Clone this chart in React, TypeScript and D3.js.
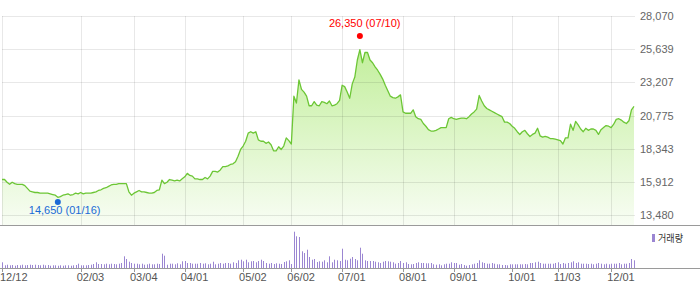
import React, { useEffect } from "react";
import * as d3 from "d3";

const W = 700;
const H = 289;

// daily closing prices (KRW), 12/12 .. 12/12
const prices = [
  16100, 16100, 15900, 15750, 15900, 15800, 15750, 15750, 15750, 15650,
  15450, 15250, 15200, 15150, 15150, 15100, 15100, 15100, 15100, 15050,
  15000, 14950, 14800, 14850, 14950, 15000, 15050, 14950, 15000, 15100,
  15050, 15150, 15050, 15100, 15100, 15100, 15150, 15200, 15300, 15350,
  15450, 15500, 15600, 15700, 15750, 15750, 15800, 15800, 15800, 15800,
  15200, 14950, 15100, 15200, 15300, 15200, 15200, 15150, 15100, 15100,
  15150, 15300, 15350, 16050, 15800, 15900, 16100, 16050, 16000, 16050,
  16000, 16150, 16300, 16550, 16400, 16350, 16150, 16150, 16100, 16100,
  16250, 16150, 16350, 16700, 16700, 16650, 16800, 17050, 17050, 17100,
  17200, 17250, 17400, 17800, 18300, 18550, 18900, 19500, 19600, 19500,
  19600, 19000, 18900, 18900, 18750, 18850, 18650, 18200, 18200, 18500,
  18300, 18550, 19150, 18950, 18700, 22200, 21700, 23400, 22700, 22500,
  22200, 21500, 21500, 21800, 21550, 21500, 21800, 21750, 21650, 21850,
  21500, 21550, 21650, 21900, 23000, 22900, 22500, 22050, 23100, 23600,
  24850, 25600, 24650, 25400, 25400, 24850, 24650, 24350, 24100, 23800,
  23450, 23000, 22600, 22200, 22100, 22050, 22150, 22300, 21050, 20950,
  20950, 20950, 21200, 20700, 20550, 20500, 20200, 20000, 19750, 19650,
  19650, 19700, 19800, 19900, 19900, 19900, 20550, 20650, 20550, 20500,
  20550, 20600, 20600, 20550, 20700, 20900, 21050, 21250, 22250, 21850,
  21500, 21300, 21200, 21100, 21000, 20900, 20800, 20700, 20300, 20300,
  20200, 20000, 19850, 19600, 19400, 19600, 19700, 19450, 19250, 19400,
  19500, 19850, 19300, 19200, 19250, 19200, 19100, 19100, 19050, 19000,
  18950, 18700, 19150, 19150, 20150, 19700, 20350, 20100, 19800, 19600,
  19850, 19700, 19800, 19800, 19700, 19400, 19750, 19900, 20050, 20000,
  19900, 20150, 20500, 20550, 20450, 20300, 20200, 20400, 21200, 21450,
];

// daily volume (thousand shares)
const volumes = [
  285, 135, 165, 135, 150, 115, 150, 135, 165, 135,
  150, 165, 150, 165, 150, 135, 165, 135, 150, 115,
  135, 135, 115, 135, 115, 135, 135, 115, 135, 150,
  215, 135, 135, 135, 150, 165, 200, 285, 200, 200,
  185, 215, 185, 215, 200, 185, 215, 250, 585, 450,
  315, 250, 215, 215, 185, 215, 165, 185, 215, 185,
  185, 215, 200, 715, 615, 165, 215, 215, 185, 235,
  185, 335, 350, 250, 250, 215, 215, 215, 250, 215,
  235, 185, 215, 315, 185, 215, 250, 215, 250, 250,
  215, 285, 250, 385, 415, 335, 415, 285, 335, 350,
  285, 350, 415, 350, 250, 215, 250, 200, 235, 215,
  200, 300, 335, 385, 200, 1815, 1585, 1550, 835, 750,
  915, 550, 415, 450, 300, 335, 315, 385, 285, 585,
  285, 415, 385, 350, 965, 415, 385, 465, 550, 450,
  385, 1015, 715, 385, 350, 350, 350, 315, 285, 250,
  315, 350, 335, 315, 285, 215, 250, 350, 250, 285,
  200, 185, 200, 250, 285, 250, 250, 235, 235, 250,
  185, 165, 185, 135, 185, 215, 215, 285, 250, 250,
  165, 200, 150, 115, 150, 185, 215, 250, 385, 285,
  250, 215, 215, 250, 215, 185, 185, 150, 150, 135,
  185, 185, 185, 185, 185, 185, 200, 185, 250, 250,
  285, 315, 250, 215, 215, 215, 215, 215, 250, 285,
  200, 250, 215, 250, 285, 335, 250, 285, 215, 215,
  215, 200, 215, 185, 215, 250, 215, 185, 215, 185,
  215, 215, 215, 250, 185, 215, 215, 250, 450, 385,
];

const xTickIndex = [0, 31, 52, 72, 95, 114, 134, 158, 178, 201, 219, 240];
const xTickLabels = ["12/12", "02/03", "03/04", "04/01", "05/02", "06/02", "07/01", "08/01", "09/01", "10/01", "11/03", "12/01"];
const yTickValues = [13480, 15912, 18343, 20775, 23207, 25639, 28070];

const highPoint = [141, 26350];
const highDate = "07/10";
const lowPoint = [22, 14650];
const lowDate = "01/16";
const legendLabel = "거래량";

const fmt = d3.format(",");

export default function App() {
  useEffect(() => {
    document.body.style.margin = "0";
  }, []);

  const x = d3.scaleLinear().domain([0, prices.length - 1]).range([2, 634]);
  const y = d3.scaleLinear().domain([12771, 28070]).range([225, 16]);
  const yv = d3.scaleLinear().domain([0, 2000]).range([268, 228]);

  const area = d3
    .area<number>()
    .x((_, i) => x(i))
    .y0(225)
    .y1((d) => y(d));
  const line = d3
    .line<number>()
    .x((_, i) => x(i))
    .y((d) => y(d));

  const font = "'Liberation Sans', Arial, sans-serif";
  const hx = x(highPoint[0]);
  const hy = y(highPoint[1]) - 3.5;
  const lx = x(lowPoint[0]);
  const ly = y(lowPoint[1]) + 2.7;

  return (
    <svg
      width={W}
      height={H}
      style={{ position: "absolute", left: 0, top: 0, display: "block", background: "#fff" }}
      fontFamily={font}
    >
      <defs>
        <linearGradient id="pfill" gradientUnits="userSpaceOnUse" x1={0} y1={40} x2={0} y2={225}>
          <stop offset="0" stopColor="#c0ee98" />
          <stop offset="1" stopColor="#f8fdf4" />
        </linearGradient>
      </defs>

      <path d={area(prices) || ""} fill="url(#pfill)" />

      {/* horizontal gridlines */}
      {yTickValues.map((v) => (
        <line
          key={"h" + v}
          x1={2}
          x2={635}
          y1={Math.round(y(v)) + 0.5}
          y2={Math.round(y(v)) + 0.5}
          stroke="rgba(0,0,0,0.09)"
          strokeWidth={1}
        />
      ))}
      {/* vertical gridlines */}
      {xTickIndex.map((i) => (
        <line
          key={"v" + i}
          x1={Math.round(x(i)) + 0.5}
          x2={Math.round(x(i)) + 0.5}
          y1={16}
          y2={225}
          stroke="rgba(0,0,0,0.09)"
          strokeWidth={1}
        />
      ))}

      <path d={line(prices) || ""} fill="none" stroke="#6cc635" strokeWidth={1.3} strokeLinejoin="round" />

      {/* y labels */}
      {yTickValues.map((v) => (
        <text key={"yl" + v} x={640} y={y(v) + 4} fontSize={11} fill="#666">
          {fmt(v)}
        </text>
      ))}

      {/* panel axis lines */}
      <line x1={0} x2={W} y1={225.5} y2={225.5} stroke="#9a9a9a" />
      <line x1={0} x2={W} y1={268.5} y2={268.5} stroke="#9a9a9a" />

      {/* volume bars */}
      {volumes.map((v, i) => (
        <rect
          key={"vb" + i}
          x={Math.round(x(i))}
          y={yv(v)}
          width={1}
          height={268 - yv(v)}
          fill="#9b86d2"
        />
      ))}

      {/* x ticks and labels */}
      {xTickIndex.map((i, k) => (
        <g key={"xt" + i}>
          <line
            x1={Math.round(x(i)) + 0.5}
            x2={Math.round(x(i)) + 0.5}
            y1={268}
            y2={272}
            stroke="#9a9a9a"
          />
          <text x={Math.max(0, x(i) - 4)} y={281} fontSize={11} fill="#555">
            {xTickLabels[k]}
          </text>
        </g>
      ))}

      {/* legend */}
      <rect x={652} y={234} width={3} height={8} fill="#9b86d2" />
      <text
        x={658}
        y={241.5}
        fontSize={10}
        fill="#333"
        fontFamily="'Noto Sans CJK KR', sans-serif"
        textLength={25}
        lengthAdjust="spacingAndGlyphs"
      >
        {legendLabel}
      </text>

      {/* high / low markers */}
      <circle cx={hx} cy={hy} r={3} fill="#ff0000" />
      <text x={hx - 31} y={hy - 9} fontSize={11} fill="#ff0000">
        {fmt(highPoint[1])} ({highDate})
      </text>
      <circle cx={lx} cy={ly} r={3} fill="#1a6ad6" />
      <text x={lx - 29} y={ly + 12} fontSize={11} fill="#1a6ad6">
        {fmt(lowPoint[1])} ({lowDate})
      </text>
    </svg>
  );
}
